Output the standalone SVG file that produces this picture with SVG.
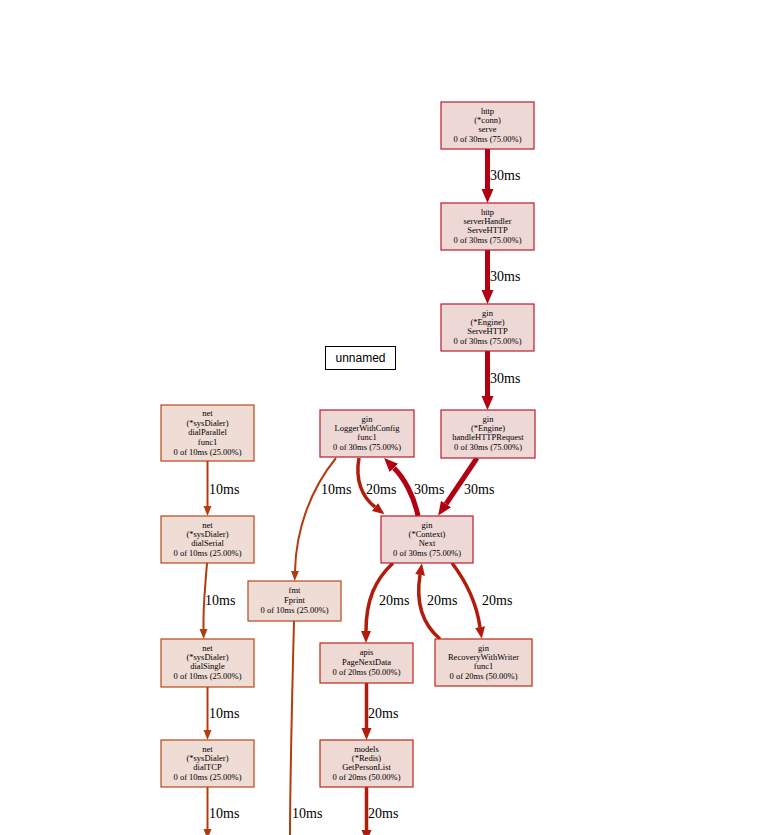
<svg xmlns="http://www.w3.org/2000/svg" width="767" height="835" viewBox="0 0 767 835">
<style>
.bg{fill:#ffffff}
.n text{font-family:"Liberation Serif","Times New Roman",serif;font-size:8.5px;fill:#000;text-anchor:middle}
.n75 rect{fill:#eed8d6;stroke:#b81d2c;stroke-width:1.2}
.n50 rect{fill:#eed9d5;stroke:#b82a18;stroke-width:1.2}
.n25 rect{fill:#eedcd5;stroke:#b8461a;stroke-width:1.2}
.e{fill:none}
.e30{stroke:#b20012;stroke-width:5}
.e20{stroke:#b21c0c;stroke-width:3.5}
.e10{stroke:#b23c10;stroke-width:2}
.lbl{font-family:"Liberation Serif","Times New Roman",serif;font-size:14px;fill:#000}
</style>
<defs>
<marker id="a30" markerUnits="userSpaceOnUse" markerWidth="14" markerHeight="14" refX="0" refY="7" orient="auto"><path d="M0,1 L14,7 L0,13 z" fill="#b20012"/></marker>
<marker id="a20" markerUnits="userSpaceOnUse" markerWidth="12" markerHeight="12" refX="0" refY="6" orient="auto"><path d="M0,1 L12,6 L0,11 z" fill="#b21c0c"/></marker>
<marker id="a10" markerUnits="userSpaceOnUse" markerWidth="10" markerHeight="10" refX="0" refY="5" orient="auto"><path d="M0,1 L10,5 L0,9 z" fill="#b23c10"/></marker>
</defs>
<rect class="bg" x="0" y="0" width="767" height="835"/>

<g id="edges">
<path class="e e30" d="M487.5,149 L487.5,189" marker-end="url(#a30)"/>
<path class="e e30" d="M487.5,250 L487.5,290" marker-end="url(#a30)"/>
<path class="e e30" d="M487.5,351 L487.5,396" marker-end="url(#a30)"/>
<path class="e e30" d="M477,458 L446,504" marker-end="url(#a30)"/>
<path class="e e30" d="M418,516 C414,496 404,478 394,468" marker-end="url(#a30)"/>
<path class="e e20" d="M359,458 C355,480 362,497 375,507" marker-end="url(#a20)"/>
<path class="e e10" d="M336,458 C310,490 296,530 295,571" marker-end="url(#a10)"/>
<path class="e e20" d="M393,563 C375,580 366,600 366,631" marker-end="url(#a20)"/>
<path class="e e20" d="M440,639 C420,622 416,600 420,575" marker-end="url(#a20)"/>
<path class="e e20" d="M452,563 C465,580 476,600 480,627" marker-end="url(#a20)"/>
<path class="e e20" d="M366.5,683 L366.5,728" marker-end="url(#a20)"/>
<path class="e e20" d="M366.5,787 L366.5,830" marker-end="url(#a20)"/>
<path class="e e10" d="M207.5,461 L207.5,506" marker-end="url(#a10)"/>
<path class="e e10" d="M207,563 C205,590 203,605 203.5,629" marker-end="url(#a10)"/>
<path class="e e10" d="M207.5,687 L207.5,730" marker-end="url(#a10)"/>
<path class="e e10" d="M207.5,787 L207.5,829" marker-end="url(#a10)"/>
<path class="e e10" d="M294,621 C292,700 290,780 290,840"/>
<text class="lbl" x="490" y="180">30ms</text>
<text class="lbl" x="490" y="281">30ms</text>
<text class="lbl" x="490" y="383">30ms</text>
<text class="lbl" x="464" y="494">30ms</text>
<text class="lbl" x="414" y="494">30ms</text>
<text class="lbl" x="366" y="494">20ms</text>
<text class="lbl" x="321" y="494">10ms</text>
<text class="lbl" x="209" y="494">10ms</text>
<text class="lbl" x="205" y="605">10ms</text>
<text class="lbl" x="379" y="605">20ms</text>
<text class="lbl" x="427" y="605">20ms</text>
<text class="lbl" x="482" y="605">20ms</text>
<text class="lbl" x="209" y="718">10ms</text>
<text class="lbl" x="368" y="718">20ms</text>
<text class="lbl" x="209" y="818">10ms</text>
<text class="lbl" x="292" y="818">10ms</text>
<text class="lbl" x="368" y="818">20ms</text>
</g>

<g id="unnamed">
<rect x="325.5" y="346.5" width="70" height="23" fill="#ffffff" stroke="#000000" stroke-width="1"/>
<text x="360.5" y="362" font-family="'Liberation Sans',Arial,sans-serif" font-size="12" text-anchor="middle">unnamed</text>
</g>

<g id="http_conn_serve" class="n n75">
<rect x="441" y="102" width="93" height="47"/>
<text x="487.5" y="114">http</text><text x="487.5" y="123">(*conn)</text><text x="487.5" y="132">serve</text><text x="487.5" y="142">0 of 30ms (75.00%)</text>
</g>
<g id="http_serverHandler_ServeHTTP" class="n n75">
<rect x="441" y="203" width="93" height="47"/>
<text x="487.5" y="215">http</text><text x="487.5" y="224">serverHandler</text><text x="487.5" y="233">ServeHTTP</text><text x="487.5" y="243">0 of 30ms (75.00%)</text>
</g>
<g id="gin_Engine_ServeHTTP" class="n n75">
<rect x="441" y="304" width="93" height="47"/>
<text x="487.5" y="316">gin</text><text x="487.5" y="325">(*Engine)</text><text x="487.5" y="334">ServeHTTP</text><text x="487.5" y="344">0 of 30ms (75.00%)</text>
</g>
<g id="gin_Engine_handleHTTPRequest" class="n n75">
<rect x="441" y="410" width="94" height="48"/>
<text x="488" y="422">gin</text><text x="488" y="431">(*Engine)</text><text x="488" y="440">handleHTTPRequest</text><text x="488" y="450">0 of 30ms (75.00%)</text>
</g>
<g id="gin_LoggerWithConfig_func1" class="n n75">
<rect x="320" y="410" width="94" height="47"/>
<text x="367" y="422">gin</text><text x="367" y="431">LoggerWithConfig</text><text x="367" y="440">func1</text><text x="367" y="450">0 of 30ms (75.00%)</text>
</g>
<g id="gin_Context_Next" class="n n75">
<rect x="381" y="516" width="92" height="47"/>
<text x="427" y="528">gin</text><text x="427" y="537">(*Context)</text><text x="427" y="546">Next</text><text x="427" y="556">0 of 30ms (75.00%)</text>
</g>
<g id="net_dialParallel_func1" class="n n25">
<rect x="161" y="405" width="93" height="56"/>
<text x="207.5" y="416">net</text><text x="207.5" y="425.5">(*sysDialer)</text><text x="207.5" y="435">dialParallel</text><text x="207.5" y="444.5">func1</text><text x="207.5" y="455">0 of 10ms (25.00%)</text>
</g>
<g id="net_dialSerial" class="n n25">
<rect x="161" y="516" width="93" height="47"/>
<text x="207.5" y="528">net</text><text x="207.5" y="537">(*sysDialer)</text><text x="207.5" y="546">dialSerial</text><text x="207.5" y="556">0 of 10ms (25.00%)</text>
</g>
<g id="net_dialSingle" class="n n25">
<rect x="161" y="639" width="93" height="48"/>
<text x="207.5" y="651">net</text><text x="207.5" y="660">(*sysDialer)</text><text x="207.5" y="669">dialSingle</text><text x="207.5" y="679">0 of 10ms (25.00%)</text>
</g>
<g id="net_dialTCP" class="n n25">
<rect x="161" y="740" width="93" height="47"/>
<text x="207.5" y="752">net</text><text x="207.5" y="761">(*sysDialer)</text><text x="207.5" y="770">dialTCP</text><text x="207.5" y="780">0 of 10ms (25.00%)</text>
</g>
<g id="fmt_Fprint" class="n n25">
<rect x="248" y="581" width="93" height="40"/>
<text x="294.5" y="593">fmt</text><text x="294.5" y="602.5">Fprint</text><text x="294.5" y="612.5">0 of 10ms (25.00%)</text>
</g>
<g id="apis_PageNextData" class="n n50">
<rect x="320" y="643" width="93" height="40"/>
<text x="366.5" y="655">apis</text><text x="366.5" y="664.5">PageNextData</text><text x="366.5" y="674.5">0 of 20ms (50.00%)</text>
</g>
<g id="gin_RecoveryWithWriter_func1" class="n n50">
<rect x="435" y="639" width="97" height="47"/>
<text x="483.5" y="651">gin</text><text x="483.5" y="660">RecoveryWithWriter</text><text x="483.5" y="669">func1</text><text x="483.5" y="679">0 of 20ms (50.00%)</text>
</g>
<g id="models_Redis_GetPersonList" class="n n50">
<rect x="320" y="740" width="93" height="47"/>
<text x="366.5" y="752">models</text><text x="366.5" y="761">(*Redis)</text><text x="366.5" y="770">GetPersonList</text><text x="366.5" y="780">0 of 20ms (50.00%)</text>
</g>
</svg>
